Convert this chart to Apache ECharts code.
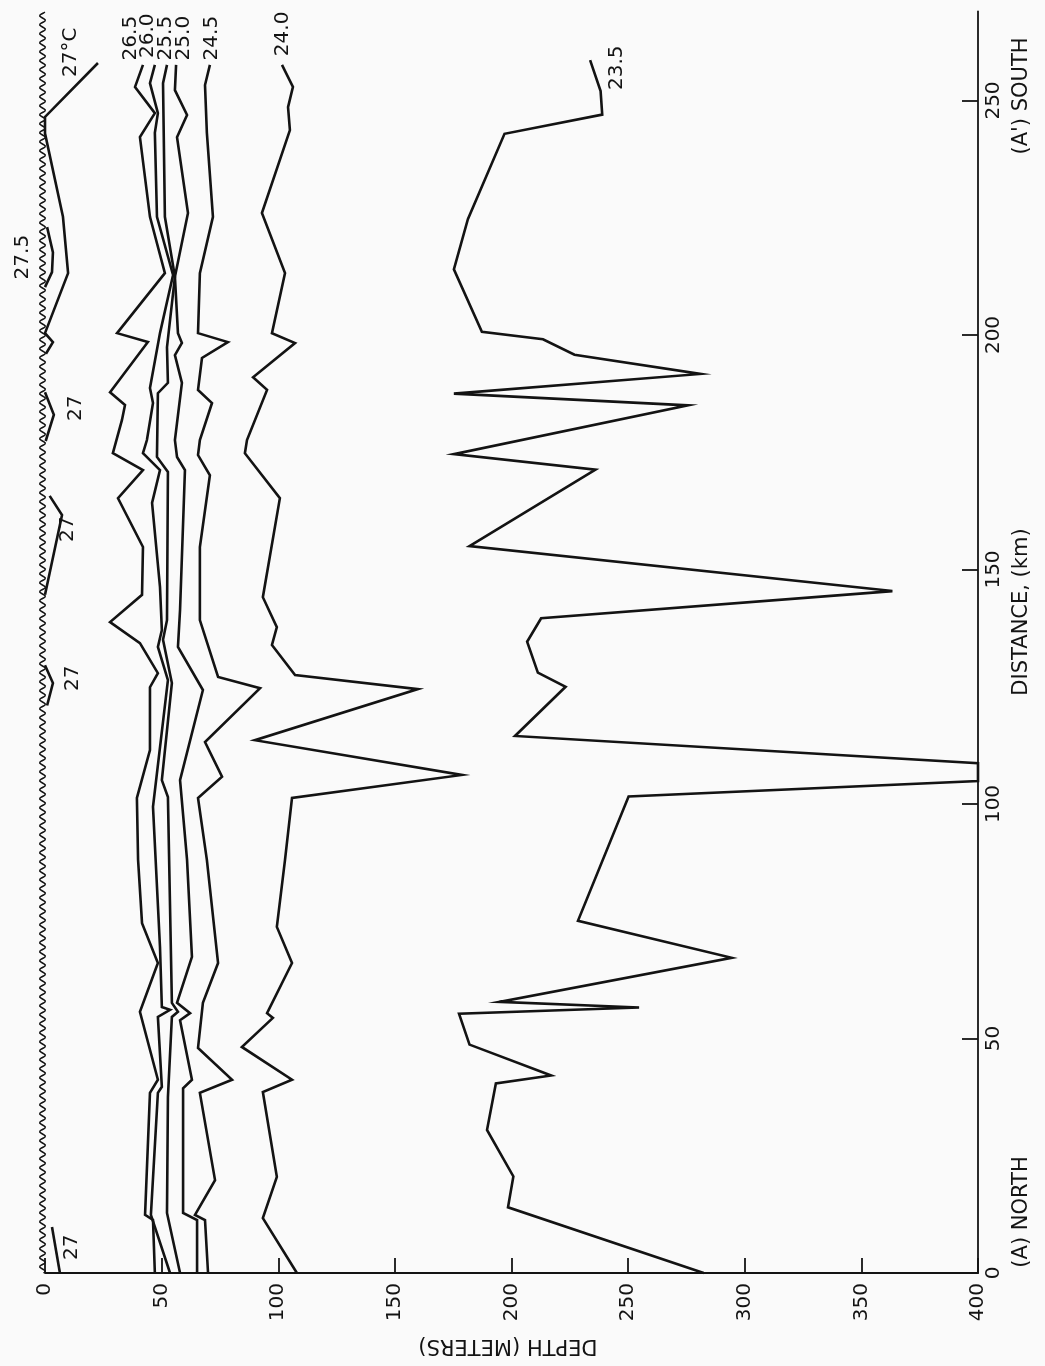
<!DOCTYPE html>
<html>
<head>
<meta charset="utf-8">
<script src="https://cdn.jsdelivr.net/npm/echarts@6/dist/echarts.min.js"></script>
<style>
  html, body { margin: 0; padding: 0; background: #fafafa; }
  #chart { width: 1045px; height: 1366px; }
</style>
</head>
<body>
<div id="chart"></div>
<script>
// tick labels
var depthTicks = [0, 50, 100, 150, 200, 250, 300, 350, 400];
var distTicks = [0, 50, 100, 150, 200, 250];

// isotherms, each point is [depth (m), distance (km)]
var iso265 = [[42.0,257.6],[38.6,252.9],[47.1,247.3],[40.7,242.2],[45.0,225.2],[51.4,213.2],[30.9,200.4],[44.1,198.5],[27.9,187.8],[34.3,185.1],[33.0,181.9],[29.1,174.8],[42.0,171.2],[31.3,165.2],[42.0,154.8],[41.6,144.6],[27.9,138.8],[40.7,134.3],[48.4,127.9],[45.0,124.9],[45.0,111.5],[39.4,101.3],[39.9,88.1],[41.6,74.6],[48.4,66.1],[40.7,55.7],[48.4,41.2],[45.0,38.4],[42.9,12.4],[46.3,11.3],[47.1,0]];
var iso260 = [[47.1,257.6],[45.0,253.7],[48.4,247.3],[47.1,243.1],[48.0,225.2],[54.9,212.8],[49.3,200.4],[45.0,188.7],[46.3,185.5],[43.7,177.6],[42.0,174.8],[49.3,171.2],[45.9,164.2],[49.3,146.3],[50.1,137.1],[48.4,133.5],[52.7,126.4],[46.3,99.4],[49.3,69.5],[50.1,56.7],[53.6,56.1],[48.4,54.6],[50.1,39.7],[48.4,38.4],[45.4,12.4],[53.6,0]];
var iso255 = [[52.3,257.6],[50.6,253.7],[51.4,225.2],[55.7,212.4],[52.3,197.4],[52.7,189.8],[48.4,187.6],[48.0,174.0],[52.7,170.8],[52.3,139.2],[50.6,135.0],[54.4,125.8],[50.1,105.1],[52.7,101.5],[54.4,57.6],[57.0,55.7],[54.4,54.6],[52.7,37.5],[52.3,12.8],[57.9,0]];
var iso250 = [[56.2,257.6],[55.7,252.2],[60.9,246.9],[56.6,242.2],[61.3,226.0],[55.7,212.4],[57.0,200.4],[58.7,198.3],[55.7,195.7],[58.7,189.8],[55.7,177.6],[56.6,174.0],[60.0,171.2],[57.9,141.4],[57.0,133.5],[67.7,124.3],[57.9,105.1],[60.9,88.1],[63.0,67.4],[56.6,57.6],[62.2,55.4],[57.9,53.9],[63.0,41.2],[59.2,39.4],[59.2,12.8],[65.2,11.3],[65.2,0]];
var iso245 = [[70.7,257.6],[68.6,253.3],[69.4,243.1],[72.0,225.2],[66.4,213.2],[65.6,200.4],[78.4,198.5],[67.3,195.1],[65.6,188.3],[71.6,185.5],[66.4,177.6],[65.6,174.4],[70.7,170.1],[66.4,154.8],[66.4,139.2],[74.2,127.1],[92.2,124.7],[68.6,113.2],[75.9,105.8],[65.6,101.3],[69.4,88.1],[74.2,66.1],[67.7,57.6],[65.6,48.0],[80.2,41.2],[66.4,38.4],[72.9,19.8],[64.3,12.4],[68.6,11.3],[69.9,0]];
var iso240 = [[101.6,257.6],[106.3,252.9],[104.2,248.6],[105.0,243.7],[93.0,226.0],[102.9,213.2],[97.3,200.4],[107.2,198.3],[89.2,191.0],[95.2,188.3],[86.6,177.6],[85.7,174.8],[100.7,165.2],[93.4,144.1],[99.4,137.7],[97.3,133.9],[107.2,127.5],[159.9,124.5],[90.0,113.6],[178.7,106.2],[105.9,101.3],[102.9,88.1],[99.4,73.8],[105.9,66.1],[95.2,55.4],[97.7,54.4],[84.4,48.2],[105.9,41.2],[93.4,38.6],[99.4,20.5],[93.4,11.7],[108.0,0]];
var iso235 = [[233.7,258.6],[238.2,252.0],[238.9,247.0],[197.0,242.9],[181.3,224.7],[175.3,214.0],[187.3,200.7],[213.5,199.1],[227.0,195.8],[281.0,191.7],[175.3,187.5],[275.7,185.0],[175.3,174.6],[236.0,171.3],[182.0,155.0],[363.3,145.4],[212.7,139.6],[206.7,134.6],[211.3,128.0],[223.2,125.0],[201.5,114.5],[400,108.7],[400,104.9],[250.2,101.6],[228.5,75.1],[294.4,67.2],[194.8,57.8],[254.7,56.6],[177.5,55.3],[182.0,48.7],[217.0,42.1],[193.3,40.4],[189.5,30.5],[200.8,20.6],[198.5,14.0],[282.4,0]];

// 27 and 27.5 degree pockets near the surface
var iso27top = [[22.7,258],[0,246.5],[0,243],[7.7,225.2],[9.9,213.2],[0,200.4],[3.4,198.5],[0.4,196]];
var iso275 = [[0.9,223],[3.4,217.6],[3.0,213.4],[0,210.2]];
var iso27a = [[0,187.8],[3.8,183],[0.3,177.4]];
var iso27b = [[2,165.7],[7.3,161.6],[0,144.6]];
var iso27c = [[0,129.6],[3.4,125.8],[0.9,121]];
var iso27d = [[3,9.8],[6.4,0]];

// sea surface, depth 0 from distance 0 to 269 km
var surfaceLine = [[0, 0, 269]];

// contour labels: [text, depth, distance] of the label centre
var contourLabels = [
  ['26.5', 36.9, 263.3], ['26.0', 44.1, 263.8], ['25.5', 51.9, 263.3],
  ['25.0', 59.6, 263.3], ['24.5', 71.6, 263.3], ['24.0', 102.0, 264.2],
  ['23.5', 245.0, 257.0], ['27°C', 11.1, 260.3], ['27.5', -9.4, 216.6],
  ['27', 13.3, 184.4], ['27', 9.9, 158.6], ['27', 12.0, 126.8], ['27', 11.6, 5.5]
];

var ink = '#131313';
var fontFam = '"DejaVu Sans", sans-serif';

var chart = echarts.init(document.getElementById('chart'));

function isoSeries(name, data) {
  return {
    name: name,
    type: 'line',
    data: data,
    symbol: 'none',
    clip: false,
    z: 3,
    lineStyle: { color: ink, width: 2.6, join: 'miter' }
  };
}

var option = {
  backgroundColor: '#fafafa',
  animation: false,
  grid: { left: 45, right: 67, top: 11.4, bottom: 93 },
  xAxis: {
    type: 'value',
    min: 0,
    max: 400,
    interval: 50,
    axisLine: { show: true, onZero: false, lineStyle: { color: ink, width: 1.8 } },
    axisTick: { show: true, inside: true, length: 15, customValues: depthTicks, lineStyle: { color: ink, width: 1.8 } },
    axisLabel: { rotate: 90, margin: 10, fontSize: 20, color: ink, fontFamily: fontFam, customValues: depthTicks },
    splitLine: { show: false }
  },
  yAxis: {
    type: 'value',
    position: 'right',
    min: 0,
    max: 269,
    axisLine: { show: true, onZero: false, lineStyle: { color: ink, width: 1.8 } },
    axisTick: { show: true, inside: true, length: 16, customValues: distTicks, lineStyle: { color: ink, width: 1.8 } },
    axisLabel: { rotate: 90, margin: 6, fontSize: 20, color: ink, fontFamily: fontFam, customValues: distTicks },
    splitLine: { show: false }
  },
  series: [
    {
      // wavy sea surface
      type: 'custom',
      data: surfaceLine,
      encode: { x: 0, y: 1 },
      clip: false,
      z: 2,
      renderItem: function (params, api) {
        var p0 = api.coord([api.value(0), api.value(1)]);
        var p1 = api.coord([api.value(0), api.value(2)]);
        var pts = [];
        for (var y = p0[1]; y >= p1[1]; y -= 1) {
          pts.push([p0[0] - 2.5 + 2.8 * Math.sin(y * 2 * Math.PI / 9), y]);
        }
        return { type: 'polyline', shape: { points: pts }, style: { stroke: ink, fill: null, lineWidth: 1.5 } };
      }
    },
    isoSeries('26.5', iso265),
    isoSeries('26.0', iso260),
    isoSeries('25.5', iso255),
    isoSeries('25.0', iso250),
    isoSeries('24.5', iso245),
    isoSeries('24.0', iso240),
    isoSeries('23.5', iso235),
    isoSeries('27', iso27top),
    isoSeries('27.5', iso275),
    isoSeries('27a', iso27a),
    isoSeries('27b', iso27b),
    isoSeries('27c', iso27c),
    isoSeries('27d', iso27d)
  ]
};
chart.setOption(option);

// labels placed through the axes
var texts = contourLabels.map(function (l) {
  var p = chart.convertToPixel({ gridIndex: 0 }, [l[1], l[2]]);
  return {
    type: 'text', x: p[0], y: p[1], rotation: Math.PI / 2, z: 10,
    style: { text: l[0], fontSize: 20, fontFamily: fontFam, fill: ink, align: 'center', verticalAlign: 'middle' }
  };
});

function title(txt, x, y, rot) {
  return {
    type: 'text', x: x, y: y, rotation: rot, z: 10,
    style: { text: txt, fontSize: 21, fontFamily: fontFam, fill: ink, align: 'center', verticalAlign: 'middle' }
  };
}
texts.push(title('DISTANCE, (km)', 1022, 612, Math.PI / 2));
texts.push(title('(A) NORTH', 1022, 1212, Math.PI / 2));
texts.push(title("(A') SOUTH", 1022, 96, Math.PI / 2));
texts.push(title('DEPTH (METERS)', 508, 1345, Math.PI));

chart.setOption({ graphic: texts });

window.addEventListener('resize', function () {
  chart.resize();
});
</script>
</body>
</html>
